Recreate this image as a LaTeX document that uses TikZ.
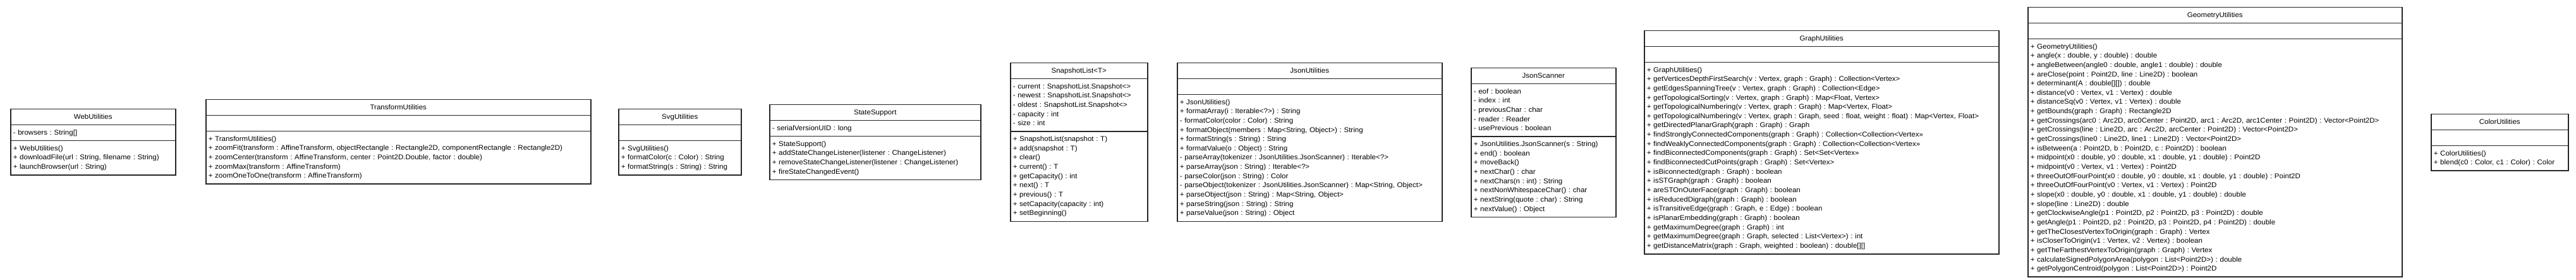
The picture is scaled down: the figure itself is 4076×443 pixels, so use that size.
\documentclass[tikz,border=0pt]{standalone}
\usepackage{fontspec}
\setmainfont{Liberation Sans}[FakeStretch=1.05]
\usetikzlibrary{shapes.multipart}
\newcommand{\umlpart}[1]{\strut#1\strut}
\newcommand{\umlhead}[1]{\hbox to\hsize{\hfil\strut#1\hfil}}

\begin{document}
\frenchspacing
\begin{tikzpicture}[x=1pt,y=-1pt]
 \tikzstyle{classbox}=[rectangle split,rectangle split parts=3,draw=black!85,line width=1.5pt,
   inner xsep=4pt,inner ysep=4.4pt,align=left,anchor=north west,font=\fontsize{11}{14.65}\selectfont]
 \useasboundingbox (0,0) rectangle (4076,443);
 %
 \node[classbox, text width=253pt] (web) at (16,172) {\umlhead{WebUtilities}
   \nodepart{two}\umlpart{- browsers : String[]}
   \nodepart{three}\umlpart{+ WebUtilities()\\+ downloadFile(url : String, filename : String)\\+ launchBrowser(url : String)}};
 \node[classbox, text width=601pt] (transform) at (325,157) {\umlhead{TransformUtilities}
   \nodepart{two}\umlpart{}
   \nodepart{three}\umlpart{+ TransformUtilities()\\+ zoomFit(transform : AffineTransform, objectRectangle : Rectangle2D, componentRectangle : Rectangle2D)\\+ zoomCenter(transform : AffineTransform, center : Point2D.Double, factor : double)\\+ zoomMax(transform : AffineTransform)\\+ zoomOneToOne(transform : AffineTransform)}};
 \node[classbox, text width=186pt] (svg) at (978,172) {\umlhead{SvgUtilities}
   \nodepart{two}\umlpart{}
   \nodepart{three}\umlpart{+ SvgUtilities()\\+ formatColor(c : Color) : String\\+ formatString(s : String) : String}};
 \node[classbox, text width=326pt] (state) at (1217,165) {\umlhead{StateSupport}
   \nodepart{two}\umlpart{- serialVersionUID : long}
   \nodepart{three}\umlpart{+ StateSupport()\\+ addStateChangeListener(listener : ChangeListener)\\+ removeStateChangeListener(listener : ChangeListener)\\+ fireStateChangedEvent()}};
 \node[classbox, text width=209pt] (snapshot) at (1598,99) {\umlhead{SnapshotList<T>}
   \nodepart{two}\umlpart{- current : SnapshotList.Snapshot<>\\- newest : SnapshotList.Snapshot<>\\- oldest : SnapshotList.Snapshot<>\\- capacity : int\\- size : int}
   \nodepart{three}\umlpart{+ SnapshotList(snapshot : T)\\+ add(snapshot : T)\\+ clear()\\+ current() : T\\+ getCapacity() : int\\+ next() : T\\+ previous() : T\\+ setCapacity(capacity : int)\\+ setBeginning()}};
 \node[classbox, text width=411pt] (json) at (1862,99) {\umlhead{JsonUtilities}
   \nodepart{two}\umlpart{}
   \nodepart{three}\umlpart{+ JsonUtilities()\\+ formatArray(i : Iterable<?>) : String\\- formatColor(color : Color) : String\\+ formatObject(members : Map<String, Object>) : String\\+ formatString(s : String) : String\\+ formatValue(o : Object) : String\\- parseArray(tokenizer : JsonUtilities.JsonScanner) : Iterable<?>\\+ parseArray(json : String) : Iterable<?>\\- parseColor(json : String) : Color\\- parseObject(tokenizer : JsonUtilities.JsonScanner) : Map<String, Object>\\+ parseObject(json : String) : Map<String, Object>\\+ parseString(json : String) : String\\+ parseValue(json : String) : Object}};
 \node[classbox, text width=221pt] (scanner) at (2327,107) {\umlhead{JsonScanner}
   \nodepart{two}\umlpart{- eof : boolean\\- index : int\\- previousChar : char\\- reader : Reader\\- usePrevious : boolean}
   \nodepart{three}\umlpart{+ JsonUtilities.JsonScanner(s : String)\\+ end() : boolean\\+ moveBack()\\+ nextChar() : char\\+ nextChars(n : int) : String\\+ nextNonWhitespaceChar() : char\\+ nextString(quote : char) : String\\+ nextValue() : Object}};
 \node[classbox, text width=553pt] (graph) at (2601,48) {\umlhead{GraphUtilities}
   \nodepart{two}\umlpart{}
   \nodepart{three}\umlpart{+ GraphUtilities()\\+ getVerticesDepthFirstSearch(v : Vertex, graph : Graph) : Collection<Vertex>\\+ getEdgesSpanningTree(v : Vertex, graph : Graph) : Collection<Edge>\\+ getTopologicalSorting(v : Vertex, graph : Graph) : Map<Float, Vertex>\\+ getTopologicalNumbering(v : Vertex, graph : Graph) : Map<Vertex, Float>\\+ getTopologicalNumbering(v : Vertex, graph : Graph, seed : float, weight : float) : Map<Vertex, Float>\\+ getDirectedPlanarGraph(graph : Graph) : Graph\\+ findStronglyConnectedComponents(graph : Graph) : Collection<Collection<Vertex>>\\+ findWeaklyConnectedComponents(graph : Graph) : Collection<Collection<Vertex>>\\+ findBiconnectedComponents(graph : Graph) : Set<Set<Vertex>>\\+ findBiconnectedCutPoints(graph : Graph) : Set<Vertex>\\+ isBiconnected(graph : Graph) : boolean\\+ isSTGraph(graph : Graph) : boolean\\+ areSTOnOuterFace(graph : Graph) : boolean\\+ isReducedDigraph(graph : Graph) : boolean\\+ isTransitiveEdge(graph : Graph, e : Edge) : boolean\\+ isPlanarEmbedding(graph : Graph) : boolean\\+ getMaximumDegree(graph : Graph) : int\\+ getMaximumDegree(graph : Graph, selected : List<Vertex>) : int\\+ getDistanceMatrix(graph : Graph, weighted : boolean) : double[][]}};
 \node[classbox, text width=584pt] (geometry) at (3208,11) {\umlhead{GeometryUtilities}
   \nodepart{two}\umlpart{}
   \nodepart{three}\umlpart{+ GeometryUtilities()\\+ angle(x : double, y : double) : double\\+ angleBetween(angle0 : double, angle1 : double) : double\\+ areClose(point : Point2D, line : Line2D) : boolean\\+ determinant(A : double[][]) : double\\+ distance(v0 : Vertex, v1 : Vertex) : double\\+ distanceSq(v0 : Vertex, v1 : Vertex) : double\\+ getBounds(graph : Graph) : Rectangle2D\\+ getCrossings(arc0 : Arc2D, arc0Center : Point2D, arc1 : Arc2D, arc1Center : Point2D) : Vector<Point2D>\\+ getCrossings(line : Line2D, arc : Arc2D, arcCenter : Point2D) : Vector<Point2D>\\+ getCrossings(line0 : Line2D, line1 : Line2D) : Vector<Point2D>\\+ isBetween(a : Point2D, b : Point2D, c : Point2D) : boolean\\+ midpoint(x0 : double, y0 : double, x1 : double, y1 : double) : Point2D\\+ midpoint(v0 : Vertex, v1 : Vertex) : Point2D\\+ threeOutOfFourPoint(x0 : double, y0 : double, x1 : double, y1 : double) : Point2D\\+ threeOutOfFourPoint(v0 : Vertex, v1 : Vertex) : Point2D\\+ slope(x0 : double, y0 : double, x1 : double, y1 : double) : double\\+ slope(line : Line2D) : double\\+ getClockwiseAngle(p1 : Point2D, p2 : Point2D, p3 : Point2D) : double\\+ getAngle(p1 : Point2D, p2 : Point2D, p3 : Point2D, p4 : Point2D) : double\\+ getTheClosestVertexToOrigin(graph : Graph) : Vertex\\+ isCloserToOrigin(v1 : Vertex, v2 : Vertex) : boolean\\+ getTheFarthestVertexToOrigin(graph : Graph) : Vertex\\+ calculateSignedPolygonArea(polygon : List<Point2D>) : double\\+ getPolygonCentroid(polygon : List<Point2D>) : Point2D}};
 \node[classbox, text width=209pt] (color) at (3846,180) {\umlhead{ColorUtilities}
   \nodepart{two}\umlpart{}
   \nodepart{three}\umlpart{+ ColorUtilities()\\+ blend(c0 : Color, c1 : Color) : Color}};
\end{tikzpicture}
\end{document}
